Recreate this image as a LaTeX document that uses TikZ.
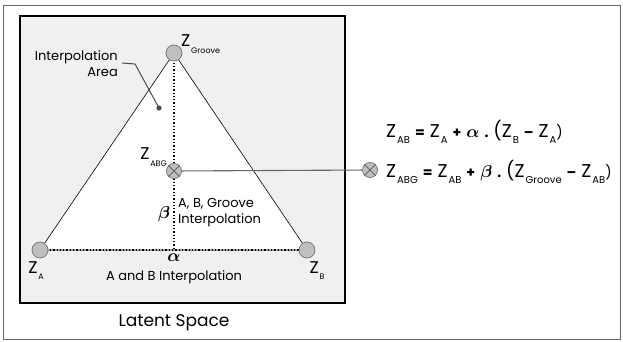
\documentclass[tikz,border=0pt]{standalone}
\usepackage{fontspec}
\setmainfont{Poppins}
\usepackage{bm}
\newcommand{\zsub}[1]{\hspace{0.8pt}\raisebox{-0.7ex}{\fontsize{8}{8}\selectfont #1}}
\newcommand{\esub}[1]{\hspace{1pt}\raisebox{-0.6ex}{\fontsize{10}{10}\selectfont #1}}
\newcommand{\bigz}{\fontsize{17}{17}\selectfont Z}
\newcommand{\eqz}{\fontsize{18.5}{18}\selectfont Z}
\newcommand{\opsz}{\fontsize{14}{14}\selectfont}
\newcommand{\gp}{\hspace{5pt}}
\newcommand{\eqop}[1]{\gp{\opsz\bfseries #1}\gp}
\begin{document}
\begin{tikzpicture}[x=1pt,y=-1pt,
  pt/.style={circle,draw=black!55,fill=black!25,minimum size=16pt,inner sep=0pt,line width=0.7pt},
  lbl/.style={font=\fontsize{13}{16}\selectfont,inner sep=0pt},
  eq/.style={font=\opsz,inner sep=0pt,anchor=west}]
\useasboundingbox (0,0) rectangle (623,342);
\draw[black!60,line width=0.7pt] (3,5) rectangle (620,339);
\draw[black,line width=1.8pt,fill=black!6] (20,16) rectangle (345,303);
\coordinate (g) at (174,53);
\coordinate (a) at (40,250);
\coordinate (b) at (307,250);
\coordinate (abg) at (174,171);
\coordinate (ab) at (174,250);
\draw[black,line width=0.6pt,fill=white] (a) -- (g) -- (b) -- cycle;
\draw[dotted,line width=1.3pt] (a) -- (b);
\draw[dotted,line width=1.3pt] (g) -- (ab);
\node[pt] (G) at (g) {};
\node[pt] (A) at (a) {};
\node[pt] (B) at (b) {};
\node[pt,minimum size=15pt] (ABG) at (abg) {};
\draw[black!60,line width=0.9pt] (ABG.45) -- (ABG.225) (ABG.135) -- (ABG.315);
\node[pt,minimum size=15pt] (R) at (370,170) {};
\draw[black!60,line width=0.9pt] (R.45) -- (R.225) (R.135) -- (R.315);
\draw[black!60,line width=1.1pt] (ABG) -- (R);
% labels
\node[lbl,anchor=west] (lg) at (181,44) {\bigz\zsub{Groove}};
\node[lbl,anchor=east] (labg) at (167,157) {\bigz\zsub{ABG}};
\node[lbl,anchor=north] (la) at (36,261) {\bigz\zsub{A}};
\node[lbl,anchor=north] (lb) at (317,261) {\bigz\zsub{B}};
\node[lbl,align=right,anchor=east] (ia) at (118,64) {Interpolation\\Area};
\coordinate (dot) at (159,108);
\fill[black!70] (dot) circle (2.6pt);
\draw[black!70,line width=1pt] (122,63) -- (135,64) -- (dot);
\node[lbl,align=left,anchor=west] (bl) at (178,213) {A, B, Groove\\Interpolation};
\node[inner sep=0pt] (beta) at (164,214) {\fontsize{18}{18}\selectfont$\bm\beta$};
\node[inner sep=0pt] (alpha) at (174,258) {\fontsize{18}{18}\selectfont$\bm\alpha$};
\node[lbl] (abl) at (174,277) {A and B Interpolation};
\node[lbl,font=\fontsize{17}{18}\selectfont] (ls) at (174,323) {Latent Space};
% equations
\node[eq] (e1) at (386,132) {\eqz\esub{AB}\eqop{=}\eqz\esub{A}\eqop{+}{\fontsize{18}{18}\selectfont$\bm\alpha$}\eqop{.}(\eqz\esub{B}\gp{\opsz\bfseries –}\gp\eqz\esub{A}\opsz)};
\node[eq] (e2) at (386,172) {\eqz\esub{ABG}\eqop{=}\eqz\esub{AB}\eqop{+}{\fontsize{18}{18}\selectfont$\bm\beta$}\eqop{.}(\eqz\esub{Groove}\gp{\opsz\bfseries –}\gp\eqz\esub{AB}\opsz)};
\end{tikzpicture}
\end{document}
